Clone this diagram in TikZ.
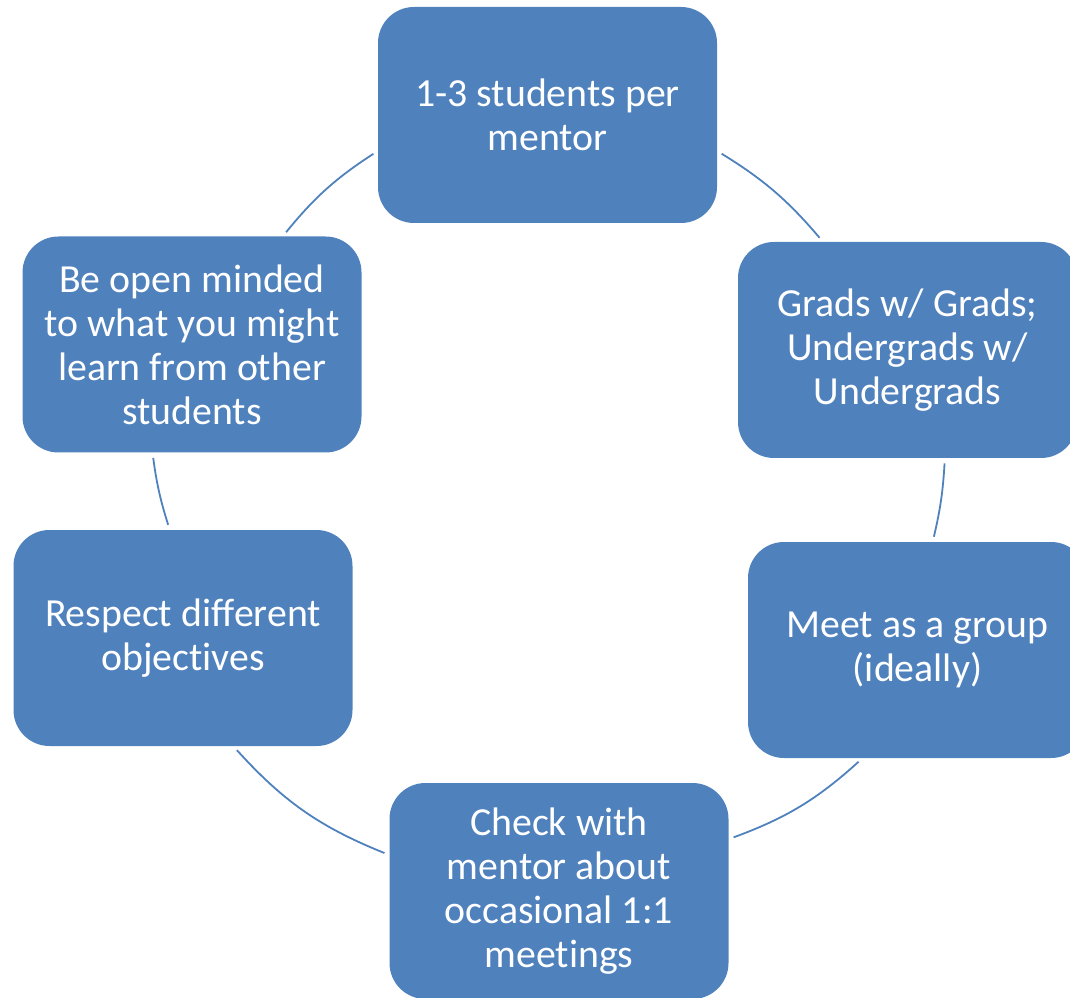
\documentclass[tikz,border=0pt]{standalone}
\usepackage{fontspec}
\setmainfont{Carlito}[Ligatures=CommonOff]
\usepackage{xcolor}
\definecolor{boxblue}{RGB}{79,129,189}
\usetikzlibrary{positioning}

\begin{document}
\begin{tikzpicture}[x=0.5pt, y=0.5pt,
        box/.style={rectangle, rounded corners=18pt, fill=boxblue, text=white,
            minimum width=169.5pt, minimum height=108pt, inner sep=0pt,
            align=center, font=\fontsize{19.9}{22}\selectfont},
        link/.style={draw=boxblue, line width=0.9pt, shorten >=2.5pt, shorten <=2.5pt}]
        \useasboundingbox (0,0) rectangle (1070,997);
        \clip (0,0) rectangle (1070,997);

        \node[box] (mentor)  at (547.5,882) {1-3 students per\\mentor};
        \node[box] (grads)   at (907.5,647) {Grads w/ Grads;\\Undergrads w/\\Undergrads};
        \node[box] (group)   at (917.5,347) {Meet as a group\\(ideally)};
        \node[box] (check)   at (559,106)   {Check with\\mentor about\\occasional 1:1\\meetings};
        \node[box] (respect) at (183,359)   {Respect different\\objectives};
        \node[box] (open)    at (192,652.5) {Be open minded\\to what you might\\learn from other\\students};

        \draw
            (mentor.-12)  edge[link, bend left=9]  (grads.128)
            (grads.-71)   edge[link, bend left=5]  (group.82)
            (group.-117)  edge[link, bend left=11] (check.17)
            (check.168)   edge[link, bend left=13] (respect.-65)
            (respect.97)  edge[link, bend left=5]  (open.-110)
            (open.50)     edge[link, bend left=9]  (mentor.192)
            ;
\end{tikzpicture}
\end{document}
